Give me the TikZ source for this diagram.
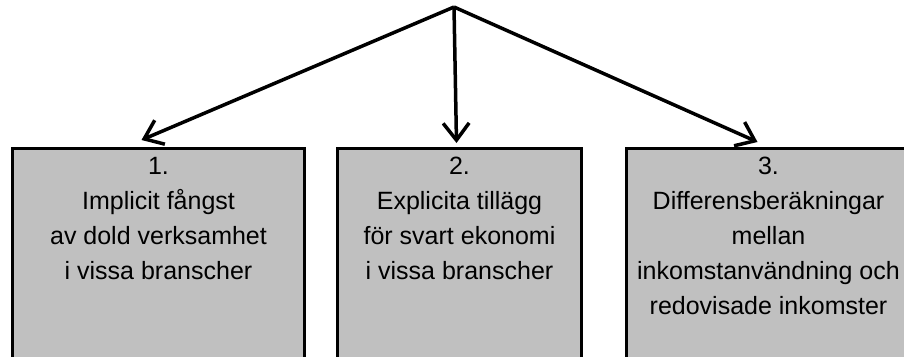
\documentclass[tikz,border=0pt]{standalone}
\usepackage{fontspec}
\setmainfont{Liberation Sans}
\usetikzlibrary{arrows.meta}
\begin{document}
\begin{tikzpicture}[x=1pt,y=-1pt,
  box/.style={draw=black, line width=3pt, fill=boxgray, anchor=north west, inner sep=0pt},
  lbl/.style={anchor=north, align=center, inner sep=0pt, font=\fontsize{25}{35}\selectfont},
  conn/.style={line width=3.5pt, -{Straight Barb[length=17pt,width=26pt]}}]
\definecolor{boxgray}{HTML}{C0C0C0}
\useasboundingbox (0,0) rectangle (904,356);
\clip (0,0) rectangle (904,356);
\node[box, minimum width=292pt, minimum height=260pt] (b1) at (11,147) {};
\node[box, minimum width=244pt, minimum height=260pt] (b2) at (336,147) {};
\node[box, minimum width=284pt, minimum height=260pt] (b3) at (625,147) {};
\node[lbl] (t1) at ([yshift=-10pt]b1.north) {1.\\Implicit fångst\\av dold verksamhet\\i vissa branscher};
\node[lbl] (t2) at ([yshift=-10pt]b2.north) {2.\\Explicita tillägg\\för svart ekonomi\\i vissa branscher};
\node[lbl] (t3) at ([yshift=-10pt]b3.north) {3.\\Differensberäkningar\\mellan\\inkomstanvändning och\\redovisade inkomster};
\coordinate (apex) at (454,7);
\draw[conn] (apex) -- ([shift={(-17,-7)}]b1.north);
\draw[conn] (apex) -- ([shift={(-3,-4)}]b2.north);
\draw[conn] (apex) -- ([shift={(-11,-5)}]b3.north);
\end{tikzpicture}
\end{document}
